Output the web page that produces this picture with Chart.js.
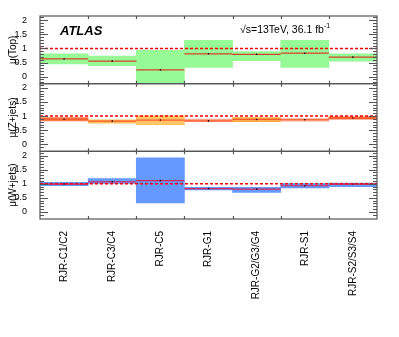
<!DOCTYPE html>
<html><head><meta charset="utf-8">
<script src="https://cdn.jsdelivr.net/npm/chart.js@4"></script>
<style>
html,body{margin:0;padding:0;background:#fff;}
#wrap{position:relative;width:399px;height:337px;overflow:hidden;}
canvas{position:absolute;left:0;top:0;}
.t{position:absolute;font-family:"Liberation Sans",Arial,sans-serif;color:#000;white-space:nowrap;line-height:1;}
</style></head><body>
<div id="wrap"><canvas id="c" width="399" height="337"></canvas>
<div class="t" style="left:60px;top:24px;font-size:13px;font-weight:bold;font-style:italic;">ATLAS</div>
<div class="t" style="left:240px;top:22px;font-size:10.5px;">√s=13TeV, 36.1 fb<sup style="font-size:7px;vertical-align:5px;">-1</sup></div>
</div>
<script>
const categories = ['RJR-C1/C2','RJR-C3/C4','RJR-C5','RJR-G1','RJR-G2/G3/G4','RJR-S1','RJR-S2/S3/S4'];
const yTickValues = [0, 0.5, 1, 1.5, 2];
const panelTitles = ['μ(Top)', 'μ(Z+jets)', 'μ(W+jets)'];

const topMu = [0.63, 0.55, 0.24, 0.81, 0.79, 0.83, 0.69];
const topLo = [0.45, 0.39, -0.30, 0.33, 0.57, 0.33, 0.55];
const topHi = [0.81, 0.73, 0.93, 1.29, 0.89, 1.29, 0.81];

const zMu = [0.89, 0.82, 0.86, 0.83, 0.88, 0.87, 0.93];
const zLo = [0.83, 0.75, 0.70, 0.80, 0.80, 0.82, 0.89];
const zHi = [0.95, 0.87, 1.01, 0.89, 0.95, 0.91, 0.97];

const wMu = [0.99, 1.07, 1.11, 0.83, 0.81, 0.93, 0.99];
const wLo = [0.93, 1.01, 0.32, 0.78, 0.69, 0.85, 0.90];
const wHi = [1.05, 1.18, 1.92, 0.87, 0.87, 1.01, 1.02];

const refValue = 1;

const FONT = '"Liberation Sans", Arial, sans-serif';

function segs(mu){ return mu.flatMap((v,i)=>[{x:i,y:v},{x:i+1,y:v},{x:i+1,y:null}]); }

const panels = [
  {id:'yTop', mu:topMu, lo:topLo, hi:topHi, band:'rgb(150,250,150)', line:'#d8402a'},
  {id:'yZ', mu:zMu, lo:zLo, hi:zHi,
   band:['#ff7a4a','#ffbd5c','#ffc466','#ffa58c','#ffac48','#ffa88e','#ff6a3a'], line:'#ff5a2a'},
  {id:'yW', mu:wMu, lo:wLo, hi:wHi, band:'rgb(102,153,255)', line:'#d02a5a'}
];

const datasets = [];
panels.forEach(p=>{
  datasets.push({type:'bar', yAxisID:p.id, xAxisID:'x', data:p.lo.map((l,i)=>[l,p.hi[i]]),
    backgroundColor:p.band, borderWidth:0, grouped:false, barPercentage:1, categoryPercentage:1, order:4});
  datasets.push({type:'line', yAxisID:p.id, xAxisID:'x2', data:segs(p.mu), borderColor:p.line,
    borderWidth:1.2, pointRadius:0, spanGaps:false, order:3});
  datasets.push({type:'line', yAxisID:p.id, xAxisID:'x', data:p.mu, showLine:false,
    pointRadius:0.8, pointBackgroundColor:'#000', pointBorderWidth:0, order:2});
  datasets.push({type:'line', yAxisID:p.id, xAxisID:'x2', data:[{x:0,y:refValue},{x:7,y:refValue}],
    borderColor:'#ff0000', borderWidth:1.5, borderDash:[3,2], pointRadius:0, order:1});
});

function yScale(title){
  return {
    type:'linear', position:'left', stack:'panels', stackWeight:1,
    min:-0.25, max:2.15,
    afterBuildTicks: s => { s.ticks = yTickValues.map(v=>({value:v})); },
    afterFit: s => { s.width = 40; },
    grid:{display:false}, border:{display:false},
    ticks:{padding:5, autoSkip:false, color:'#000', font:{family:FONT, size:9}, callback:v=>String(v)},
    title:{display:true, text:title, color:'#000', font:{family:FONT, size:10}, padding:{top:7,bottom:0}}
  };
}

const framePlugin = {
  id:'frame',
  afterDatasetsDraw(chart){
    const ctx = chart.ctx, ca = chart.chartArea;
    const L = ca.left, R = ca.right;
    const x2 = chart.scales.x2;
    ctx.save();
    ctx.strokeStyle = '#555'; ctx.lineWidth = 1.2;
    panels.forEach(p=>{
      const s = chart.scales[p.id];
      ctx.strokeRect(L, s.top, R-L, s.bottom-s.top);
      ctx.beginPath();
      for (let k=-2; k<=21; k++){
        const y = Math.round(s.getPixelForValue(k/10))+0.5;
        if (y < s.top+1 || y > s.bottom-1) continue;
        const len = (k%5===0) ? 8 : 4;
        ctx.moveTo(L, y); ctx.lineTo(L+len, y);
        ctx.moveTo(R, y); ctx.lineTo(R-len, y);
      }
      for (let i=1; i<categories.length; i++){
        const x = Math.round(x2.getPixelForValue(i))+0.5;
        ctx.moveTo(x, s.top); ctx.lineTo(x, s.top+3);
        ctx.moveTo(x, s.bottom); ctx.lineTo(x, s.bottom-3);
      }
      ctx.stroke();
    });
    ctx.restore();
  }
};

new Chart(document.getElementById('c'), {
  type:'bar',
  data:{labels:categories, datasets},
  options:{
    responsive:false, animation:false, events:[],
    layout:{padding:{left:0, right:22, top:16, bottom:0}},
    plugins:{legend:{display:false}, tooltip:{enabled:false}},
    scales:{
      x:{type:'category', position:'bottom', offset:true,
         grid:{display:false}, border:{display:false},
         afterFit: s => { s.height = 118; },
         ticks:{minRotation:90, maxRotation:90, padding:4, autoSkip:false, color:'#000',
                font:{family:FONT, size:10}}},
      x2:{type:'linear', min:0, max:7, offset:false, display:false, grid:{offset:false}},
      yW: yScale(panelTitles[2]),
      yZ: yScale(panelTitles[1]),
      yTop: yScale(panelTitles[0])
    }
  },
  plugins:[framePlugin]
});
</script>
</body></html>
